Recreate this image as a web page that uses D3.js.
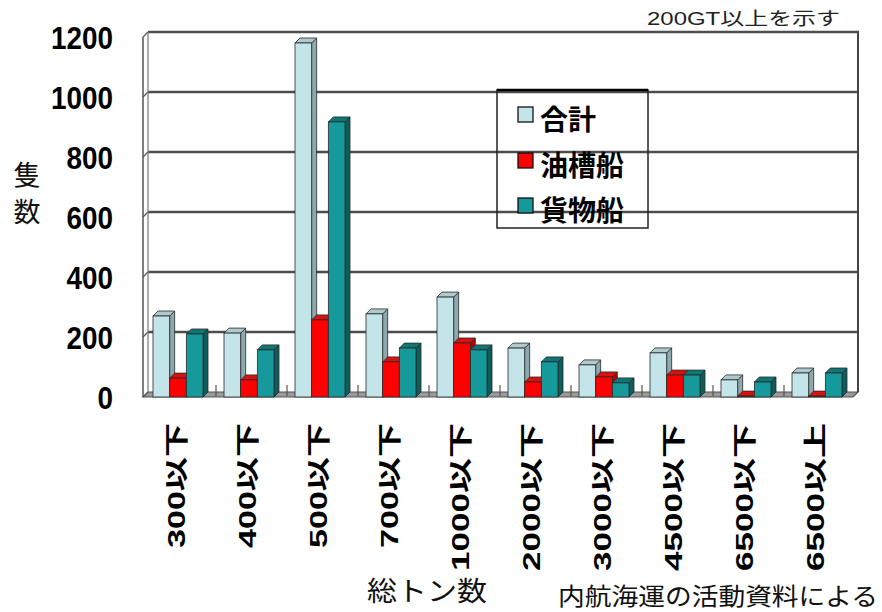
<!DOCTYPE html>
<html><head><meta charset="utf-8">
<script src="https://cdn.jsdelivr.net/npm/d3@7"></script>
<style>
html,body{margin:0;padding:0;background:#fff;}
svg{display:block;}
</style>
</head><body>
<svg id="chart" width="882" height="612"></svg>
<script>
const categories = ["300以下","400以下","500以下","700以下","1000以下","2000以下","3000以下","4500以下","6500以下","6500以上"];
const seriesNames = ["合計","油槽船","貨物船"];
const totalValues = [270, 213, 1180, 277, 333, 163, 107, 147, 57, 80];
const tankerValues = [63, 57, 257, 117, 180, 50, 67, 73, 3, 3];
const cargoValues = [210, 157, 917, 163, 157, 117, 47, 73, 50, 80];
const yTicks = [0, 200, 400, 600, 800, 1000, 1200];
const yTitle = ["隻","数"];
const xTitle = "総トン数";
const note = "200GT以上を示す";
const source = "内航海運の活動資料による";

const seriesValues = [totalValues, tankerValues, cargoValues];
const colors = [
  {front:"#C3E5EA", side:"#8DA9AD", top:"#AFC9CD"},
  {front:"#FF0000", side:"#B80000", top:"#DD1010"},
  {front:"#16999A", side:"#0B5E5E", top:"#0F7676"}
];
const FONT = "'Liberation Sans','Noto Sans CJK JP',sans-serif";
const CJK = "'Noto Sans CJK JP',sans-serif";

const svg = d3.select("#chart");
const left = 143, right = 853, depth = 5;
const y = d3.scaleLinear().domain([0, 1200]).range([397, 37]);
const x0 = d3.scaleBand().domain(categories).range([left, right]).padding(0);
const x1 = d3.scaleBand().domain(seriesNames).range([10, 60]).padding(0);

// Floor
const y0 = y(0);
svg.append("polygon")
  .attr("points", [[left,y0],[right,y0],[right+depth,y0-depth],[left+depth,y0-depth]].join(" "))
  .attr("fill","#9a9a9a").attr("stroke","#555").attr("stroke-width",1.2);

// Back wall gridlines
svg.append("g").selectAll("line").data(yTicks.filter(d=>d>0)).join("line")
  .attr("x1", left+depth).attr("x2", right+depth+1)
  .attr("y1", d=>y(d)-depth).attr("y2", d=>y(d)-depth)
  .attr("stroke","#4d4d4d").attr("stroke-width",2.6);
// side wall tick segments
svg.append("g").selectAll("line").data(yTicks).join("line")
  .attr("x1", left).attr("x2", left+depth)
  .attr("y1", d=>y(d)).attr("y2", d=>y(d)-depth)
  .attr("stroke","#555").attr("stroke-width",1.2);
// Left wall lines
svg.append("line").attr("x1",left).attr("x2",left).attr("y1",y(1200)).attr("y2",y0)
  .attr("stroke","#555").attr("stroke-width",1.5);
svg.append("line").attr("x1",left+depth).attr("x2",left+depth).attr("y1",y(1200)-depth).attr("y2",y0-depth)
  .attr("stroke","#777").attr("stroke-width",1.2);
// Right wall line
svg.append("line").attr("x1",right+depth).attr("x2",right+depth).attr("y1",y(1200)-depth).attr("y2",y0-depth)
  .attr("stroke","#444").attr("stroke-width",2);

// Floor tick marks at category boundaries
svg.append("g").selectAll("line").data(categories.slice(1)).join("line")
  .attr("x1", d=>x0(d)+2).attr("x2", d=>x0(d)+2)
  .attr("y1", y0-12).attr("y2", y0-1)
  .attr("stroke","#555").attr("stroke-width",1.2);

// Bars
const bars = [];
categories.forEach((c,i)=>{
  seriesNames.forEach((s,j)=>{
    bars.push({cat:c, series:s, j:j, value:seriesValues[j][i]});
  });
});
const bw = x1.bandwidth();
const bd = 5;
const bg = svg.append("g");
bars.forEach(b=>{
  const xl = x0(b.cat) + x1(b.series);
  const yt = y(b.value);
  const col = colors[b.j];
  const g = bg.append("g");
  g.append("polygon")
    .attr("points", [[xl+bw,yt],[xl+bw+bd,yt-bd],[xl+bw+bd,y0-bd],[xl+bw,y0]].join(" "))
    .attr("fill", col.side).attr("stroke","#2a2a2a").attr("stroke-width",0.8);
  g.append("polygon")
    .attr("points", [[xl,yt],[xl+bd,yt-bd],[xl+bw+bd,yt-bd],[xl+bw,yt]].join(" "))
    .attr("fill", col.top).attr("stroke","#2a2a2a").attr("stroke-width",0.8);
  g.append("rect")
    .attr("x", xl).attr("y", yt).attr("width", bw).attr("height", Math.max(0, y0-yt))
    .attr("fill", col.front).attr("stroke","#2a2a2a").attr("stroke-width",0.8);
});

// Y tick labels
svg.append("g").selectAll("text").data(yTicks).join("text")
  .attr("x", 113).attr("y", d=>y(d)+1)
  .attr("text-anchor","end").attr("dominant-baseline","central")
  .attr("font-family", FONT).attr("font-weight","bold").attr("font-size",31)
  .attr("textLength", d=>String(d).length*15.5).attr("lengthAdjust","spacingAndGlyphs")
  .attr("fill","#000").text(d=>d);

// Y title (vertical stacked)
svg.append("g").selectAll("text").data(yTitle).join("text")
  .attr("x", 27).attr("y", (d,i)=>173 + i*37)
  .attr("text-anchor","middle").attr("dominant-baseline","central")
  .attr("font-family", CJK).attr("font-size",27).attr("fill","#111")
  .text(d=>d);

// X labels (rotated)
svg.append("g").selectAll("text").data(categories).join("text")
  .attr("transform", d=>`translate(${x0(d)+x0.bandwidth()/2-2},423) rotate(-90)`)
  .attr("text-anchor","end").attr("dominant-baseline","central")
  .attr("font-family", FONT).attr("font-weight","bold").attr("font-size",24)
  .attr("textLength", d=>56 + 23*(d.length-2)).attr("lengthAdjust","spacingAndGlyphs")
  .attr("fill","#000").text(d=>d);

// X title
svg.append("text").attr("x",427).attr("y",589)
  .attr("text-anchor","middle").attr("dominant-baseline","central")
  .attr("font-family", CJK).attr("font-size",27)
  .attr("textLength",120).attr("lengthAdjust","spacingAndGlyphs")
  .attr("fill","#111").text(xTitle);

// Source
svg.append("text").attr("x",558).attr("y",594)
  .attr("text-anchor","start").attr("dominant-baseline","central")
  .attr("font-family", CJK).attr("font-size",24)
  .attr("textLength",320).attr("lengthAdjust","spacingAndGlyphs")
  .attr("fill","#111").text(source);

// Note
svg.append("text").attr("x",840).attr("y",19)
  .attr("text-anchor","end").attr("dominant-baseline","central")
  .attr("font-family", FONT).attr("font-size",18)
  .attr("textLength",193).attr("lengthAdjust","spacingAndGlyphs")
  .attr("fill","#222").text(note);

// Legend
const lg = svg.append("g");
lg.append("rect").attr("x",497).attr("y",90).attr("width",151).attr("height",138)
  .attr("fill","none").attr("stroke","#222").attr("stroke-width",1.5);
lg.append("line").attr("x1",497).attr("x2",648).attr("y1",90).attr("y2",90)
  .attr("stroke","#000").attr("stroke-width",2.5);
const legY = [115, 161, 206];
seriesNames.forEach((s,j)=>{
  lg.append("rect").attr("x",518).attr("y",legY[j]-8).attr("width",15).attr("height",15)
    .attr("fill",colors[j].front).attr("stroke","#111").attr("stroke-width",1.3);
  lg.append("text").attr("x",540).attr("y",legY[j]+3)
    .attr("dominant-baseline","central")
    .attr("font-family", CJK).attr("font-weight","bold").attr("font-size",28)
    .attr("fill","#000").text(s);
});
</script>
</body></html>
